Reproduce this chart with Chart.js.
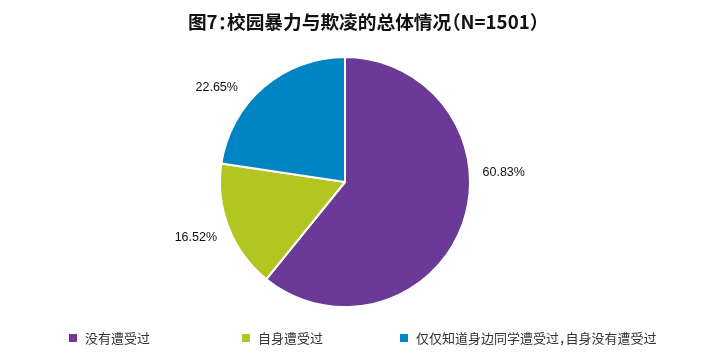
<!DOCTYPE html>
<html>
<head>
<meta charset="utf-8">
<script src="https://cdn.jsdelivr.net/npm/chart.js@4/dist/chart.umd.min.js"></script>
<style>
  body { margin: 0; background: #fff; font-family: "Noto Sans CJK SC", "Noto Sans", sans-serif; }
  #wrap { position: relative; width: 725px; height: 354px; }
  #titulo { position: absolute; left: 0; top: 7px; width: 725px; text-align: center; font-weight: bold; font-size: 18.7px; color: #111; padding-left: 1px; font-feature-settings: "halt"; }
  #leyenda { position: absolute; top: 328px; left: 0; width: 725px; font-size: 13px; color: #333; font-feature-settings: "halt"; }
  .item { position: absolute; top: 0; display: flex; align-items: center; }
  .item span.cuadro { width: 8px; height: 8px; margin-right: 8px; display: inline-block; }
  canvas { position: absolute; left: 0; top: 0; }
</style>
</head>
<body>
<div id="wrap">
  <canvas id="graficoPastel" width="725" height="354"></canvas>
  <div id="titulo">图7：校园暴力与欺凌的总体情况（N=1501）</div>
  <div id="leyenda"></div>
</div>
<script>
// datos
const categorias = ['没有遭受过', '自身遭受过', '仅仅知道身边同学遭受过，自身没有遭受过'];
const porcentajes = [60.83, 16.52, 22.65];
const colores = ['#6a3a96', '#b2c622', '#0085c4'];

// leyenda en html
const posLeyenda = [69, 242, 400];
let leyenda = document.getElementById('leyenda');
categorias.forEach((c, i) => {
    let d = document.createElement('div');
    d.className = 'item';
    d.style.left = posLeyenda[i] + 'px';
    d.innerHTML = `<span class="cuadro" style="background:${colores[i]}"></span>${c}`;
    leyenda.appendChild(d);
});

// etiquetas fuera del pastel
const ajusteAngulo = [-23, 1, -13];
const etiquetas = {
    id: 'etiquetas',
    afterDatasetsDraw(chart) {
        let ctx = chart.ctx;
        let meta = chart.getDatasetMeta(0);
        ctx.save();
        ctx.font = '12.5px "Liberation Sans", "Noto Sans", sans-serif';
        ctx.fillStyle = '#111';
        ctx.textAlign = 'center';
        ctx.textBaseline = 'middle';
        meta.data.forEach((arc, i) => {
            let p = arc.getProps(['x', 'y', 'startAngle', 'endAngle', 'outerRadius'], true);
            let medio = (p.startAngle + p.endAngle) / 2 + ajusteAngulo[i] * Math.PI / 180;
            let r = p.outerRadius + 34;
            let x = p.x + Math.cos(medio) * r;
            let y = p.y + Math.sin(medio) * r;
            ctx.fillText(porcentajes[i].toFixed(2) + '%', x, y);
        });
        ctx.restore();
    }
};

let ctx = document.getElementById('graficoPastel').getContext('2d');
new Chart(ctx, {
    type: 'pie',
    data: {
        labels: categorias,
        datasets: [{
            data: porcentajes,
            backgroundColor: colores,
            borderColor: '#ffffff',
            borderWidth: 2
        }]
    },
    options: {
        responsive: false,
        animation: false,
        layout: { padding: { top: 56, bottom: 46, left: 219, right: 254 } },
        plugins: {
            legend: { display: false },
            title: { display: false },
            tooltip: { enabled: false }
        }
    },
    plugins: [etiquetas]
});
</script>
</body>
</html>
